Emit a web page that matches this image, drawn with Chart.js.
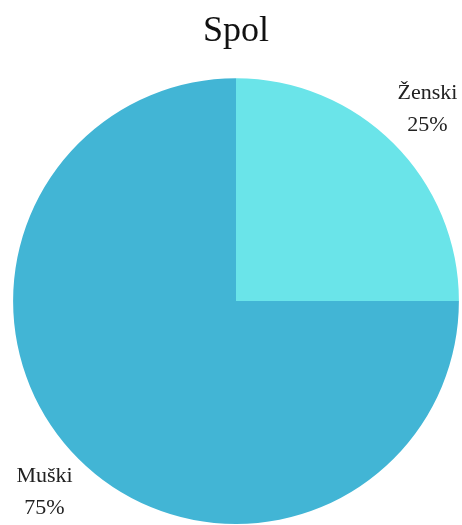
<!DOCTYPE html>
<html>
<head>
<meta charset="utf-8">
<script src="https://cdn.jsdelivr.net/npm/chart.js@4/dist/chart.umd.min.js"></script>
<style>
  html, body { margin: 0; padding: 0; background: #fff; }
  #wrap { width: 462px; height: 525px; }
</style>
</head>
<body>
<div id="wrap"><canvas id="chart"></canvas></div>
<script>
const labels = ["Ženski", "Muški"]
const values = [25, 75]
const colors = ["#6ae4e9", "#42b5d5"]

// labels outside each slice: name on one line, percent below
const outerLabels = {
    id: "outerLabels",
    afterDatasetsDraw(chart) {
        const ctx = chart.ctx
        const meta = chart.getDatasetMeta(0)
        const total = values.reduce((a, b) => a + b, 0)
        ctx.save()
        ctx.font = "22px 'Liberation Serif', 'Times New Roman', serif"
        ctx.fillStyle = "#222"
        ctx.textAlign = "center"
        ctx.textBaseline = "middle"
        meta.data.forEach((arc, i) => {
            const mid = (arc.startAngle + arc.endAngle) / 2
            const r = arc.outerRadius * 1.215
            const x = arc.x + Math.cos(mid) * r
            const y = arc.y + Math.sin(mid) * r
            const pct = Math.round(values[i] / total * 100) + "%"
            ctx.fillText(labels[i], x, y - 16)
            ctx.fillText(pct, x, y + 16)
        })
        ctx.restore()
    }
}

new Chart(document.getElementById("chart"), {
    type: "pie",
    data: {
        labels: labels,
        datasets: [{ data: values, backgroundColor: colors, borderWidth: 0 }]
    },
    options: {
        responsive: true,
        maintainAspectRatio: false,
        animation: false,
        layout: { padding: { top: 0, left: 13, right: 3, bottom: 1 } },
        plugins: {
            legend: { display: false },
            tooltip: { enabled: false },
            title: {
                display: true,
                text: "Spol",
                color: "#111",
                font: { family: "'Liberation Serif', 'Times New Roman', serif", size: 36, weight: "normal" },
                padding: { top: 10, bottom: 25 }
            }
        }
    },
    plugins: [outerLabels]
})
</script>
</body>
</html>
